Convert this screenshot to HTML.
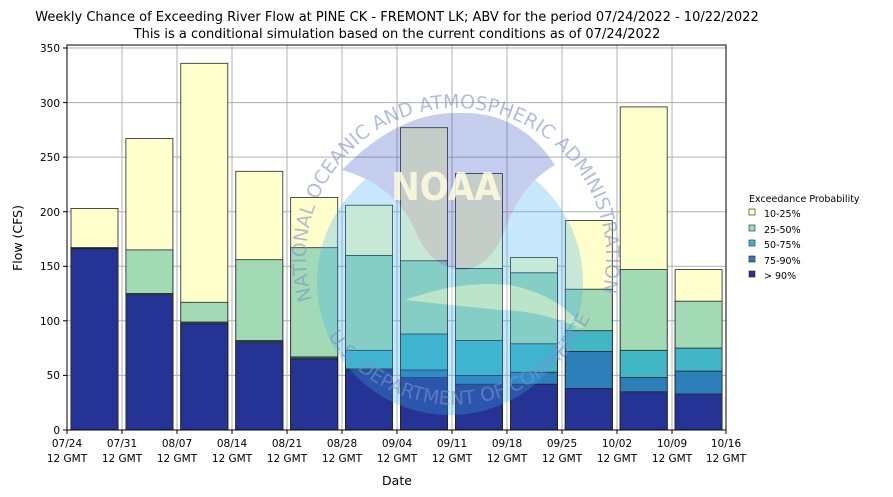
<!DOCTYPE html><html><head><style>body{margin:0;background:#fff}svg{display:block;font-family:"DejaVu Sans","Liberation Sans",sans-serif}</style></head><body>
<svg width="893" height="497" xmlns="http://www.w3.org/2000/svg">
<text x="397" y="21" font-size="13" text-anchor="middle">Weekly Chance of Exceeding River Flow at PINE CK - FREMONT LK; ABV for the period 07/24/2022 - 10/22/2022</text>
<text x="397" y="38" font-size="13" text-anchor="middle">This is a conditional simulation based on the current conditions as of 07/24/2022</text>
<g stroke="#b0b0b0" stroke-width="1">
<line x1="67" x2="726" y1="375.4" y2="375.4"/><line x1="67" x2="726" y1="320.8" y2="320.8"/><line x1="67" x2="726" y1="266.3" y2="266.3"/><line x1="67" x2="726" y1="211.7" y2="211.7"/><line x1="67" x2="726" y1="157.1" y2="157.1"/><line x1="67" x2="726" y1="102.6" y2="102.6"/><line x1="67" x2="726" y1="48" y2="48"/>
<line x1="122" x2="122" y1="45" y2="430"/><line x1="177" x2="177" y1="45" y2="430"/><line x1="232" x2="232" y1="45" y2="430"/><line x1="287" x2="287" y1="45" y2="430"/><line x1="342" x2="342" y1="45" y2="430"/><line x1="397" x2="397" y1="45" y2="430"/><line x1="452" x2="452" y1="45" y2="430"/><line x1="507" x2="507" y1="45" y2="430"/><line x1="562" x2="562" y1="45" y2="430"/><line x1="617" x2="617" y1="45" y2="430"/><line x1="672" x2="672" y1="45" y2="430"/>
</g>
<g stroke="#222" stroke-width="0.8">
<g transform="translate(71,430)"><rect y="-221.6" width="47" height="221.6" fill="#ffffcc"/><rect y="-182.3" width="47" height="182.3" fill="#a1dab4"/><rect y="-182.3" width="47" height="182.3" fill="#41b6c4"/><rect y="-181.7" width="47" height="181.7" fill="#2c7fb8"/><rect y="-181.2" width="47" height="181.2" fill="#253494"/></g>
<g transform="translate(125.9,430)"><rect y="-291.4" width="47" height="291.4" fill="#ffffcc"/><rect y="-180.1" width="47" height="180.1" fill="#a1dab4"/><rect y="-136.4" width="47" height="136.4" fill="#41b6c4"/><rect y="-136.4" width="47" height="136.4" fill="#2c7fb8"/><rect y="-135.3" width="47" height="135.3" fill="#253494"/></g>
<g transform="translate(180.8,430)"><rect y="-366.7" width="47" height="366.7" fill="#ffffcc"/><rect y="-127.7" width="47" height="127.7" fill="#a1dab4"/><rect y="-108" width="47" height="108" fill="#41b6c4"/><rect y="-107" width="47" height="107" fill="#2c7fb8"/><rect y="-105.9" width="47" height="105.9" fill="#253494"/></g>
<g transform="translate(235.8,430)"><rect y="-258.7" width="47" height="258.7" fill="#ffffcc"/><rect y="-170.3" width="47" height="170.3" fill="#a1dab4"/><rect y="-89.5" width="47" height="89.5" fill="#41b6c4"/><rect y="-88.4" width="47" height="88.4" fill="#2c7fb8"/><rect y="-87.3" width="47" height="87.3" fill="#253494"/></g>
<g transform="translate(290.7,430)"><rect y="-232.5" width="47" height="232.5" fill="#ffffcc"/><rect y="-182.3" width="47" height="182.3" fill="#a1dab4"/><rect y="-73.1" width="47" height="73.1" fill="#41b6c4"/><rect y="-72" width="47" height="72" fill="#2c7fb8"/><rect y="-70.9" width="47" height="70.9" fill="#253494"/></g>
<g transform="translate(345.6,430)"><rect y="-224.8" width="47" height="224.8" fill="#ffffcc"/><rect y="-174.6" width="47" height="174.6" fill="#a1dab4"/><rect y="-79.7" width="47" height="79.7" fill="#41b6c4"/><rect y="-61.1" width="47" height="61.1" fill="#2c7fb8"/><rect y="-60" width="47" height="60" fill="#253494"/></g>
<g transform="translate(400.5,430)"><rect y="-302.3" width="47" height="302.3" fill="#ffffcc"/><rect y="-169.2" width="47" height="169.2" fill="#a1dab4"/><rect y="-96" width="47" height="96" fill="#41b6c4"/><rect y="-60" width="47" height="60" fill="#2c7fb8"/><rect y="-52.4" width="47" height="52.4" fill="#253494"/></g>
<g transform="translate(455.4,430)"><rect y="-256.5" width="47" height="256.5" fill="#ffffcc"/><rect y="-161.5" width="47" height="161.5" fill="#a1dab4"/><rect y="-89.5" width="47" height="89.5" fill="#41b6c4"/><rect y="-54.6" width="47" height="54.6" fill="#2c7fb8"/><rect y="-45.8" width="47" height="45.8" fill="#253494"/></g>
<g transform="translate(510.4,430)"><rect y="-172.4" width="47" height="172.4" fill="#ffffcc"/><rect y="-157.2" width="47" height="157.2" fill="#a1dab4"/><rect y="-86.2" width="47" height="86.2" fill="#41b6c4"/><rect y="-57.8" width="47" height="57.8" fill="#2c7fb8"/><rect y="-45.8" width="47" height="45.8" fill="#253494"/></g>
<g transform="translate(565.3,430)"><rect y="-209.5" width="47" height="209.5" fill="#ffffcc"/><rect y="-140.8" width="47" height="140.8" fill="#a1dab4"/><rect y="-99.3" width="47" height="99.3" fill="#41b6c4"/><rect y="-78.6" width="47" height="78.6" fill="#2c7fb8"/><rect y="-41.5" width="47" height="41.5" fill="#253494"/></g>
<g transform="translate(620.2,430)"><rect y="-323.1" width="47" height="323.1" fill="#ffffcc"/><rect y="-160.4" width="47" height="160.4" fill="#a1dab4"/><rect y="-79.7" width="47" height="79.7" fill="#41b6c4"/><rect y="-52.4" width="47" height="52.4" fill="#2c7fb8"/><rect y="-38.2" width="47" height="38.2" fill="#253494"/></g>
<g transform="translate(675.1,430)"><rect y="-160.4" width="47" height="160.4" fill="#ffffcc"/><rect y="-128.8" width="47" height="128.8" fill="#a1dab4"/><rect y="-81.9" width="47" height="81.9" fill="#41b6c4"/><rect y="-58.9" width="47" height="58.9" fill="#2c7fb8"/><rect y="-36" width="47" height="36" fill="#253494"/></g>
</g>
<g opacity="0.28">
<circle cx="450" cy="282" r="133" fill="#3ab0f5"/>
<path d="M342,170 Q400,110 462,113 Q520,112 555,165 Q520,185 505,230 Q490,268 462,270 Q430,268 415,230 Q395,185 342,170Z" fill="#3050c0"/>
<path d="M405,300 Q460,280 510,285 Q560,295 585,330 Q540,310 500,310 Q450,305 405,300Z" fill="#fff"/>
</g>
<text x="446" y="200" font-size="38" font-weight="bold" fill="#fffce0" opacity="0.85" text-anchor="middle" transform="translate(446,0) scale(0.9,1) translate(-446,0)">NOAA</text>
<defs><path id="arc" d="M312,300 A150,150 0 1,1 600,300"/><path id="arc2" d="M318,318 A150,150 0 0,0 590,318"/></defs>
<text font-size="19" fill="#7d92c8" opacity="0.6"><textPath href="#arc">NATIONAL OCEANIC AND ATMOSPHERIC ADMINISTRATION</textPath></text>
<text font-size="19" fill="#7d92c8" opacity="0.6"><textPath href="#arc2" startOffset="6%">U.S. DEPARTMENT OF COMMERCE</textPath></text>
<rect x="67" y="45" width="659" height="385" fill="none" stroke="#000" stroke-width="1"/>
<g font-size="10.5" text-anchor="end"><text x="60" y="434">0</text><text x="60" y="379">50</text><text x="60" y="325">100</text><text x="60" y="270">150</text><text x="60" y="216">200</text><text x="60" y="161">250</text><text x="60" y="107">300</text><text x="60" y="52">350</text></g>
<g font-size="10.5" text-anchor="middle" stroke-width="1">
<g transform="translate(67,0)"><line y1="430" y2="434" stroke="#000"/><text y="447">07/24</text><text y="462">12 GMT</text></g>
<g transform="translate(122,0)"><line y1="430" y2="434" stroke="#000"/><text y="447">07/31</text><text y="462">12 GMT</text></g>
<g transform="translate(177,0)"><line y1="430" y2="434" stroke="#000"/><text y="447">08/07</text><text y="462">12 GMT</text></g>
<g transform="translate(232,0)"><line y1="430" y2="434" stroke="#000"/><text y="447">08/14</text><text y="462">12 GMT</text></g>
<g transform="translate(287,0)"><line y1="430" y2="434" stroke="#000"/><text y="447">08/21</text><text y="462">12 GMT</text></g>
<g transform="translate(342,0)"><line y1="430" y2="434" stroke="#000"/><text y="447">08/28</text><text y="462">12 GMT</text></g>
<g transform="translate(397,0)"><line y1="430" y2="434" stroke="#000"/><text y="447">09/04</text><text y="462">12 GMT</text></g>
<g transform="translate(452,0)"><line y1="430" y2="434" stroke="#000"/><text y="447">09/11</text><text y="462">12 GMT</text></g>
<g transform="translate(507,0)"><line y1="430" y2="434" stroke="#000"/><text y="447">09/18</text><text y="462">12 GMT</text></g>
<g transform="translate(562,0)"><line y1="430" y2="434" stroke="#000"/><text y="447">09/25</text><text y="462">12 GMT</text></g>
<g transform="translate(617,0)"><line y1="430" y2="434" stroke="#000"/><text y="447">10/02</text><text y="462">12 GMT</text></g>
<g transform="translate(672,0)"><line y1="430" y2="434" stroke="#000"/><text y="447">10/09</text><text y="462">12 GMT</text></g>
<g transform="translate(726,0)"><line y1="430" y2="434" stroke="#000"/><text y="447">10/16</text><text y="462">12 GMT</text></g>
</g>
<g stroke="#000"><line x1="63" x2="67" y1="430" y2="430"/><line x1="63" x2="67" y1="375.4" y2="375.4"/><line x1="63" x2="67" y1="320.8" y2="320.8"/><line x1="63" x2="67" y1="266.3" y2="266.3"/><line x1="63" x2="67" y1="211.7" y2="211.7"/><line x1="63" x2="67" y1="157.1" y2="157.1"/><line x1="63" x2="67" y1="102.6" y2="102.6"/><line x1="63" x2="67" y1="48" y2="48"/></g>
<text x="397" y="485" font-size="12.5" text-anchor="middle">Date</text>
<text transform="translate(22,238) rotate(-90)" font-size="12.5" text-anchor="middle">Flow (CFS)</text>
<g font-size="9.5"><text x="749" y="202">Exceedance Probability</text>
<rect x="749" y="209" width="6" height="6" fill="#ffffcc" stroke="#222" stroke-width="0.6"/><text x="764" y="217">10-25%</text>
<rect x="749" y="225" width="6" height="6" fill="#a1dab4" stroke="#222" stroke-width="0.6"/><text x="764" y="233">25-50%</text>
<rect x="749" y="240" width="6" height="6" fill="#41b6c4" stroke="#222" stroke-width="0.6"/><text x="764" y="248">50-75%</text>
<rect x="749" y="256" width="6" height="6" fill="#2c7fb8" stroke="#222" stroke-width="0.6"/><text x="764" y="264">75-90%</text>
<rect x="749" y="271" width="6" height="6" fill="#253494" stroke="#222" stroke-width="0.6"/><text x="764" y="279">&gt; 90%</text></g>
</svg></body></html>
